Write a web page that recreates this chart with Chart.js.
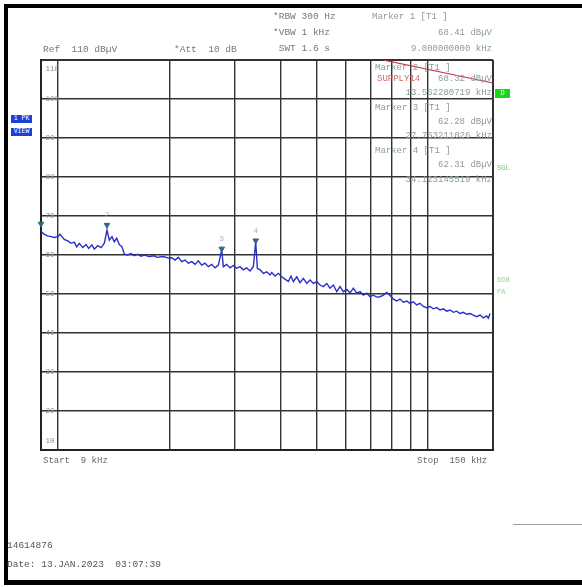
<!DOCTYPE html>
<html>
<head>
<meta charset="utf-8">
<script src="https://cdn.jsdelivr.net/npm/chart.js@4.4.1/dist/chart.umd.min.js"></script>
<style>
  html, body { margin: 0; padding: 0; background: #fff; }
  #wrap { position: relative; width: 582px; height: 587px; overflow: hidden; background: #fff; }
  #c { position: absolute; left: 0; top: 0; }
  .t { position: absolute; font-family: "Liberation Mono", "DejaVu Sans Mono", monospace; font-size: 9.5px; line-height: 12px; white-space: pre; color: #777; }
  .m { color: #8a9e92; font-size: 9px; }
  .r { text-align: right; }
  .bar { position: absolute; background: #000; }
  .ml { position: absolute; font-family: "Liberation Mono", monospace; font-size: 8px; line-height: 8px; color: #a9b6c8; transform: translate(-50%, -50%); }
</style>
</head>
<body>
<div id="wrap">
  <canvas id="c" width="582" height="587"></canvas>

  <div class="bar" style="left:4px; top:4px; width:578px; height:4px;"></div>
  <div class="bar" style="left:4px; top:4px; width:4px; height:581px;"></div>
  <div class="bar" style="left:4px; top:580px; width:578px; height:5px;"></div>
  <div style="position:absolute; left:513px; top:524px; width:69px; height:1px; background:#a0a0a0;"></div>

  <div class="t" style="left:273px; top:11px;">*RBW 300 Hz</div>
  <div class="t" style="left:273px; top:27px;">*VBW 1 kHz</div>
  <div class="t" style="left:273px; top:43px;"> SWT 1.6 s</div>
  <div class="t" style="left:43px; top:44px;">Ref  110 dBµV</div>
  <div class="t" style="left:174px; top:44px;">*Att  10 dB</div>

  <div class="t m" style="left:372px; top:11px;">Marker 1 [T1 ]</div>
  <div class="t m r" style="right:90px; top:27px;">68.41 dBµV</div>
  <div class="t m r" style="right:90px; top:43px;">9.000000000 kHz</div>

  <div class="t m" style="left:375px; top:62px;">Marker 2 [T1 ]</div>
  <div class="t m" style="left:377px; top:73px; color:#d06a6a;">SUPPLY14</div>
  <div class="t m r" style="right:90px; top:73px;">68.32 dBµV</div>
  <div class="t m r" style="right:90px; top:87px;">13.562280719 kHz</div>
  <div class="t m" style="left:375px; top:102px;">Marker 3 [T1 ]</div>
  <div class="t m r" style="right:90px; top:116px;">62.28 dBµV</div>
  <div class="t m r" style="right:90px; top:130px;">27.763211026 kHz</div>
  <div class="t m" style="left:375px; top:145px;">Marker 4 [T1 ]</div>
  <div class="t m r" style="right:90px; top:159px;">62.31 dBµV</div>
  <div class="t m r" style="right:90px; top:174px;">34.123145519 kHz</div>

  <div style="position:absolute; left:495px; top:89px; width:15px; height:9px; background:#1fd41f; color:#e8ffe8; font:7px 'Liberation Mono',monospace; line-height:9px; text-align:center;">D</div>
  <div class="t" style="left:497px; top:162px; font-size:7px; color:#7cc47c;">SGL</div>
  <div class="t" style="left:497px; top:274px; font-size:7px; color:#9ad49a;">6DB</div>
  <div class="t" style="left:497px; top:286px; font-size:7px; color:#9ad49a;">PA</div>

  <div style="position:absolute; left:11px; top:115px; width:21px; height:8px; background:#1c3fd6; color:#fff; font:6.5px 'Liberation Mono',monospace; line-height:8px; text-align:center;">1 PK</div>
  <div style="position:absolute; left:11px; top:128px; width:21px; height:8px; background:#1c3fd6; color:#fff; font:6.5px 'Liberation Mono',monospace; line-height:8px; text-align:center;">VIEW</div>

  <div class="t" style="left:43px; top:455px; font-size:9px; color:#666;">Start  9 kHz</div>
  <div class="t" style="left:417px; top:455px; font-size:9px; color:#666;">Stop  150 kHz</div>
  <div class="t" style="left:7px; top:540px; color:#555;">14614876</div>
  <div class="t" style="left:7px; top:559px; color:#555;">Date: 13.JAN.2023  03:07:39</div>
</div>
<script>
// ---- data (frequencies in kHz, levels in dBµV) ----
const traceFreq = [
  9.00, 9.19, 9.38, 9.58, 9.78, 9.99, 10.13, 10.26, 10.40, 10.63,
  10.85, 11.07, 11.24, 11.42, 11.67, 11.91, 12.11, 12.36, 12.54, 12.81,
  13.08, 13.35, 13.57, 13.77, 14.00, 14.20, 14.42, 14.65, 14.90, 15.12,
  15.44, 15.76, 16.09, 16.43, 16.77, 17.12, 17.66, 18.22, 18.49, 19.27,
  19.88, 20.31, 20.73, 21.16, 21.61, 22.06, 22.52, 23.00, 23.48, 23.96,
  24.47, 24.98, 25.50, 26.05, 26.59, 27.14, 27.72, 28.00, 28.60, 29.19,
  29.80, 30.43, 31.06, 31.71, 32.39, 33.06, 33.75, 34.25, 34.60, 35.18,
  35.91, 36.68, 37.44, 37.84, 38.63, 39.43, 40.27, 41.11, 41.96, 42.67,
  43.29, 44.22, 45.13, 46.07, 47.06, 48.03, 49.03, 50.08, 51.12, 52.18,
  53.29, 54.40, 55.53, 56.72, 57.89, 59.09, 60.36, 61.61, 62.89, 64.23,
  65.57, 66.93, 68.36, 69.78, 71.23, 72.75, 74.26, 75.80, 77.42, 79.03,
  80.67, 82.39, 84.10, 85.85, 87.69, 89.47, 91.33, 93.29, 95.22, 97.20,
  99.28, 101.34, 103.44, 105.66, 107.85, 110.09, 112.44, 114.78, 117.16, 119.67,
  122.15, 124.69, 127.35, 129.99, 132.69, 135.53, 138.35, 141.22, 144.24, 145.69,
  147.24
];
const traceLevel = [
  66.0, 65.3, 64.9, 64.7, 64.5, 64.7, 65.3, 64.7, 64.0, 63.6,
  63.0, 63.3, 62.1, 63.0, 61.9, 62.7, 61.7, 62.6, 61.5, 62.4,
  61.9, 63.0, 66.4, 63.8, 64.7, 63.4, 64.3, 62.7, 62.1, 60.2,
  60.0, 60.4, 59.8, 60.2, 59.7, 60.0, 59.6, 59.8, 59.4, 59.6,
  59.2, 59.3, 58.7, 59.4, 58.3, 58.7, 57.9, 58.3, 57.6, 58.5,
  57.4, 57.9, 57.0, 57.6, 56.7, 57.4, 61.3, 57.0, 57.6, 56.7,
  57.3, 56.6, 57.0, 56.2, 56.7, 55.9, 57.0, 63.4, 56.6, 56.2,
  55.3, 55.7, 54.9, 55.5, 54.6, 55.3, 54.4, 53.8, 53.2, 54.6,
  53.2, 54.4, 52.9, 54.0, 52.7, 53.6, 52.7, 53.2, 52.3, 51.9,
  52.7, 51.5, 52.3, 50.6, 51.9, 50.6, 51.2, 50.3, 51.5, 50.2,
  50.6, 49.7, 50.2, 49.3, 49.7, 49.2, 49.3, 49.7, 50.4, 49.6,
  48.7, 48.2, 48.7, 47.9, 48.2, 47.6, 48.0, 47.2, 47.6, 46.8,
  46.5, 46.8, 46.2, 46.5, 45.9, 46.2, 45.6, 45.9, 45.3, 45.6,
  45.0, 45.3, 44.8, 45.0, 44.6, 44.2, 44.6, 43.9, 44.4, 43.8,
  45.0
];
const markerNames = ["1", "2", "3", "4"];
const markerFreq = [9.0, 13.57, 27.72, 34.25];
const markerLevel = [68.0, 67.7, 61.6, 63.7];
const limitFreq = [75.6, 150];
const limitLevel = [110, 104.1];
const yTicks = [10, 20, 30, 40, 50, 60, 70, 80, 90, 100, 110];
const xGridKHz = [9, 10, 20, 30, 40, 50, 60, 70, 80, 90, 100, 150];

// ---- chart ----
const trace = traceFreq.map((f, i) => ({ x: f, y: traceLevel[i] }));
const markers = markerFreq.map((f, i) => ({ x: f, y: markerLevel[i] }));
const limit = limitFreq.map((f, i) => ({ x: f, y: limitLevel[i] }));

const markerLabelPlugin = {
  id: 'markerLabels',
  afterRender(chart) {
    if (chart._mlDone) return;
    chart._mlDone = true;
    const wrap = document.getElementById('wrap');
    markers.forEach((p, i) => {
      if (i === 0) return;
      const d = document.createElement('div');
      d.className = 'ml';
      d.textContent = markerNames[i];
      d.style.left = chart.scales.x.getPixelForValue(p.x) + 'px';
      d.style.top = (chart.scales.y.getPixelForValue(p.y) - 10) + 'px';
      wrap.appendChild(d);
    });
  }
};

new Chart(document.getElementById('c'), {
  type: 'line',
  data: {
    datasets: [
      { data: trace, borderColor: '#2c2cc8', borderWidth: 1.4, pointRadius: 0, tension: 0, order: 2 },
      { data: limit, borderColor: '#c0304a', borderWidth: 1.2, pointRadius: 0, tension: 0, order: 1 },
      { data: markers, showLine: false, pointStyle: 'triangle', rotation: 180, pointRadius: 3.2,
        pointBackgroundColor: '#2d6b78', pointBorderColor: '#2d6b78', clip: false, order: 0 }
    ]
  },
  options: {
    responsive: false,
    animation: false,
    events: [],
    layout: { padding: { left: 41, right: 89, top: 60, bottom: 137 } },
    plugins: { legend: { display: false }, tooltip: { enabled: false } },
    scales: {
      x: {
        type: 'logarithmic', min: 9, max: 150,
        afterBuildTicks: s => { s.ticks = xGridKHz.map(v => ({ value: v })); },
        afterFit: s => { s.height = 0; },
        ticks: { display: false },
        grid: { color: '#333', lineWidth: c => (c.tick && (c.tick.value === 150 || c.tick.value === 9)) ? 2 : 1.4, drawTicks: false },
        border: { display: true, color: '#222', width: 2 }
      },
      y: {
        type: 'linear', min: 10, max: 110,
        afterBuildTicks: s => { s.ticks = yTicks.map(v => ({ value: v })); },
        afterFit: s => { s.width = 0; },
        ticks: {
          mirror: true, padding: 0, color: '#8a8a8a',
          font: { family: 'Liberation Mono', size: 7.5, lineHeight: 1.25 },
          callback: v => v === 110 ? ['', '', ' 110'] : (v === 10 ? [' 10', '', ''] : '-' + v)
        },
        grid: { color: '#333', lineWidth: c => (c.tick && (c.tick.value === 110 || c.tick.value === 10)) ? 2 : 1.4, drawTicks: false },
        border: { display: true, color: '#222', width: 2 }
      }
    }
  },
  plugins: [markerLabelPlugin]
});
</script>
</body>
</html>
